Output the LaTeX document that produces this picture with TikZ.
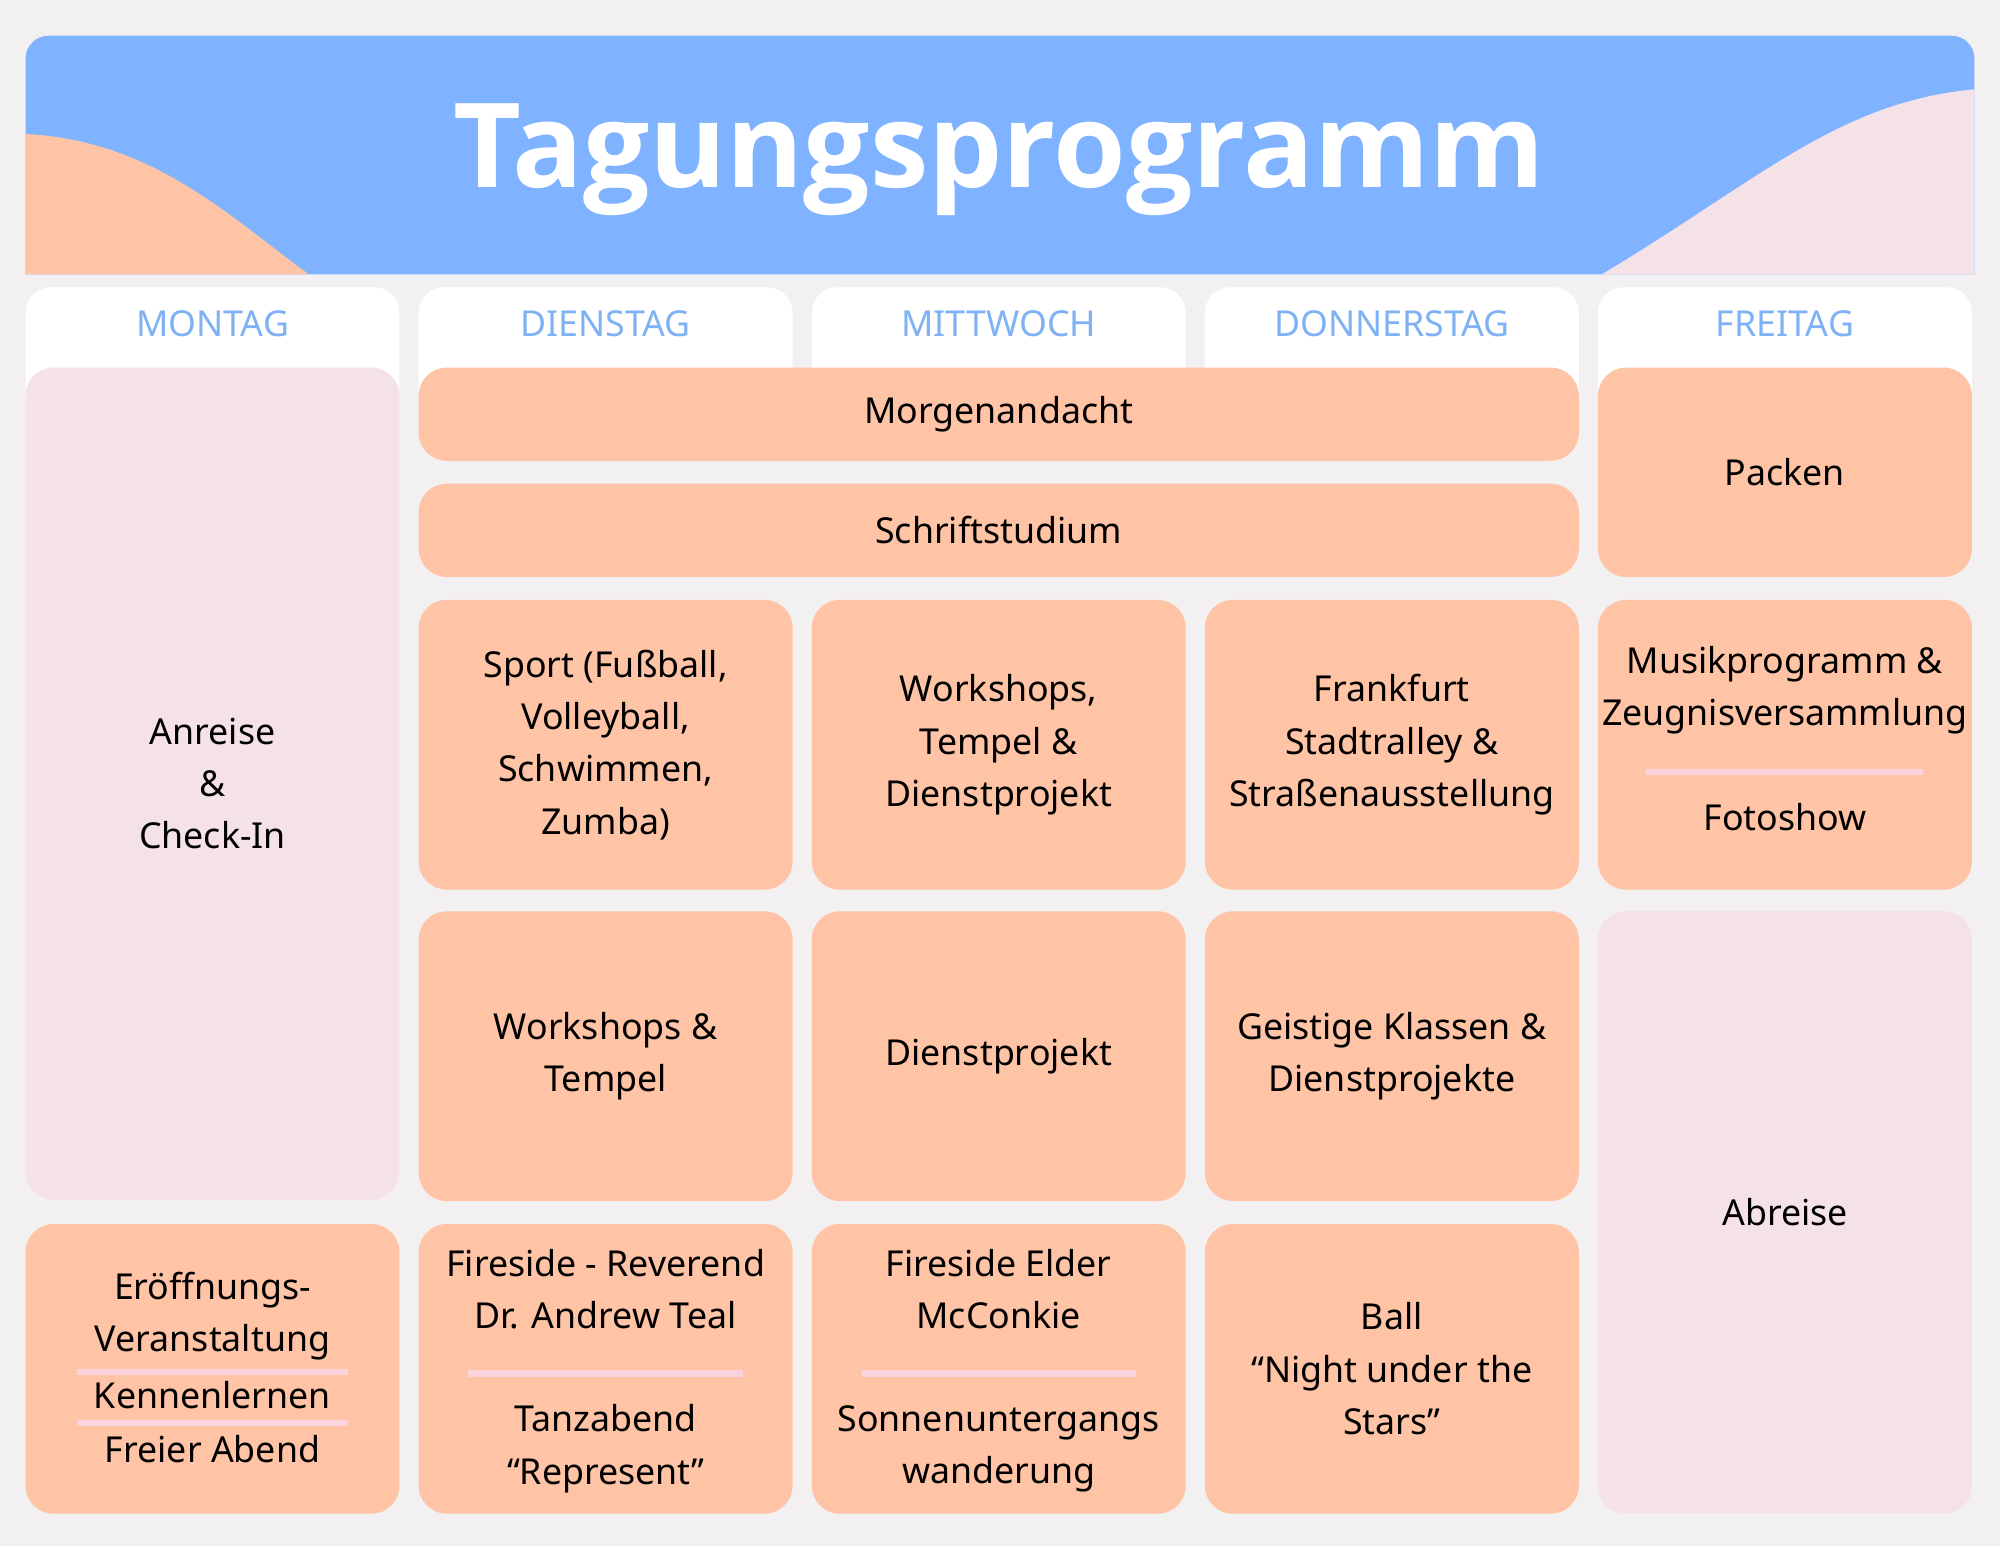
\documentclass[tikz,border=0pt]{standalone}
\usepackage{fontspec}
\setmainfont{Noto Sans}
\newfontfamily\titlefont{Open Sans}
\definecolor{bg}{HTML}{F2F0F0}
\definecolor{hblue}{HTML}{80B3FF}
\definecolor{dayblue}{HTML}{7FB2F5}
\definecolor{peach}{HTML}{FFC4A6}
\definecolor{pinkbox}{HTML}{F5E1E8}
\definecolor{sep}{HTML}{F9D3DE}
\tikzset{
  txt/.style={font=\fontsize{28}{41}\selectfont, align=center, text=black, inner sep=0},
  day/.style={font=\fontsize{28}{34}\selectfont\bfseries, text=dayblue},
  sepline/.style={sep, line width=5pt},
}
\newcommand{\bx}[6]{\fill[#6, rounded corners=22pt] (#2,#3) rectangle (#4,#5);
  \coordinate (#1) at ({(#2+#4)/2},{(#3+#5)/2});}
\begin{document}
\begin{tikzpicture}[x=1pt,y=-1pt]
\fill[bg] (0,0) rectangle (1567,1211);
\useasboundingbox (0,0) rectangle (1567,1211);
% header
\fill[hblue] (20,215) [rounded corners=18pt] -- (20,28) -- (1547,28) [sharp corners] -- (1547,215) -- cycle;
\fill[peach] (20,105) .. controls (120,110) and (180,170) .. (242,215) -- (20,215) -- cycle;
\fill[pinkbox] (1255,215) .. controls (1380,140) and (1440,80) .. (1547,70) -- (1547,215) -- cycle;
\node[font=\titlefont\fontsize{92}{100}\selectfont\bfseries, text=white] (title) at (783,125) {Tagungsprogramm};
% day headers
\foreach \x/\d [count=\i] in {20/MONTAG,328/DIENSTAG,636/MITTWOCH,944/DONNERSTAG,1252/FREITAG}{
  \fill[white, rounded corners=20pt] (\x,225) rectangle (\x+293,330);
  \node[day] (d\i) at (\x+146.5,254) {\d};
}
% boxes
\bx{mon}{20}{288}{313}{940}{pinkbox}
\node[txt] (montxt) at (mon) {Anreise\\\&\\Check-In};
\bx{morg}{328}{288}{1237}{361}{peach}
\node[txt] (morgt) at (morg) {Morgenandacht};
\bx{schr}{328}{379}{1237}{452}{peach}
\node[txt] (schrt) at (schr) {Schriftstudium};
\bx{pack}{1252}{288}{1545}{452}{peach}
\node[txt] (packt) at (pack) {Packen};
\bx{r3a}{328}{470}{621}{697}{peach}
\node[txt] (r3at) at (r3a) {Sport (Fußball,\\Volleyball,\\Schwimmen,\\Zumba)};
\bx{r3b}{636}{470}{929}{697}{peach}
\node[txt] (r3bt) at (r3b) {Workshops,\\Tempel \&\\Dienstprojekt};
\bx{r3c}{944}{470}{1237}{697}{peach}
\node[txt] (r3ct) at (r3c) {Frankfurt\\Stadtralley \&\\Straßenausstellung};
\bx{r3d}{1252}{470}{1545}{697}{peach}
\node[txt] (r3d1) at (1398.5,541) {Musikprogramm \&\\Zeugnisversammlung};
\draw[sepline] (1290,605) -- (1507,605);
\node[txt] (r3d2) at (1398.5,640) {Fotoshow};
\bx{r4a}{328}{714}{621}{941}{peach}
\node[txt] (r4at) at (r4a) {Workshops \&\\Tempel};
\bx{r4b}{636}{714}{929}{941}{peach}
\node[txt] (r4bt) at (r4b) {Dienstprojekt};
\bx{r4c}{944}{714}{1237}{941}{peach}
\node[txt] (r4ct) at (r4c) {Geistige Klassen \&\\Dienstprojekte};
\bx{abr}{1252}{714}{1545}{1186}{pinkbox}
\node[txt] (abrt) at (abr) {Abreise};
\bx{r5a}{20}{959}{313}{1186}{peach}
\node[txt] (r5a1) at (166.5,1031) {Eröffnungs-\\Veranstaltung};
\draw[sepline] (60,1075) -- (273,1075);
\node[txt] (r5a2) at (166.5,1093) {Kennenlernen};
\draw[sepline] (60,1115) -- (273,1115);
\node[txt] (r5a3) at (166.5,1135) {Freier Abend};
\bx{r5b}{328}{959}{621}{1186}{peach}
\node[txt] (r5b1) at (474.5,1010) {Fireside - Reverend\\Dr. Andrew Teal};
\draw[sepline] (367,1076) -- (582,1076);
\node[txt] (r5b2) at (474.5,1135) {Tanzabend\\“Represent”};
\bx{r5c}{636}{959}{929}{1186}{peach}
\node[txt] (r5c1) at (782.5,1010) {Fireside Elder\\McConkie};
\draw[sepline] (675,1076) -- (890,1076);
\node[txt] (r5c2) at (782.5,1135) {Sonnenuntergangs\\wanderung};
\bx{r5d}{944}{959}{1237}{1186}{peach}
\node[txt] (r5dt) at (r5d) {Ball\\“Night under the\\Stars”};
\end{tikzpicture}
\end{document}
